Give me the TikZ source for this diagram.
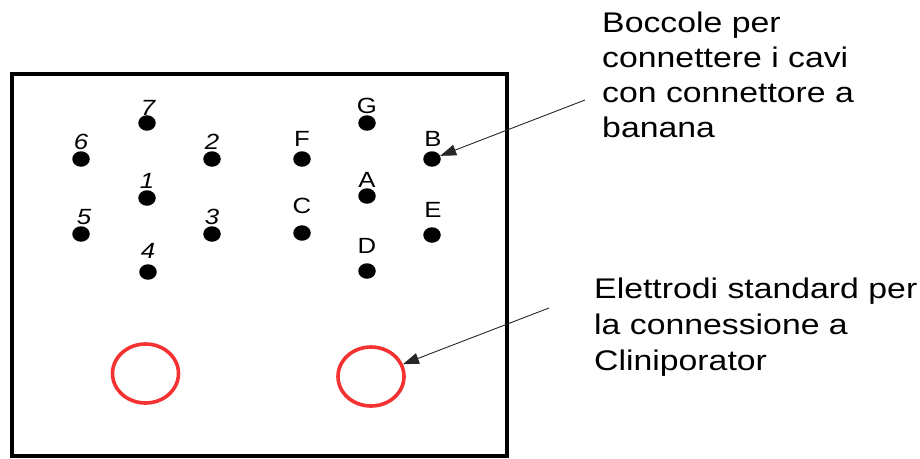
\documentclass[tikz,border=0pt]{standalone}
\usepackage{fontspec}
\newfontfamily\lsans[FakeStretch=1.17]{Liberation Sans}
\newfontfamily\nsans[FakeStretch=1.19]{Liberation Sans}
\usetikzlibrary{arrows.meta,shapes.geometric}
\definecolor{elred}{RGB}{245,50,50}
\begin{document}
\begin{tikzpicture}[x=1pt,y=-1pt,
  dotnode/.style={ellipse,fill=black,inner sep=0,minimum width=17.5pt,minimum height=15.5pt},
  lblnum/.style={anchor=base,inner sep=0,font=\lsans\itshape\fontsize{22}{24}\selectfont},
  lbllet/.style={anchor=base,inner sep=0,font=\lsans\fontsize{22}{24}\selectfont},
  electrode/.style={ellipse,draw=elred,line width=3.6pt,inner sep=0,minimum width=66pt,minimum height=59pt},
  note/.style={anchor=base west,inner sep=0,align=left,font=\nsans\fontsize{28.4}{35}\selectfont},
  arr/.style={draw=black!85,line width=0.9pt,-{Triangle[length=16pt,width=11pt]}}]
\useasboundingbox (0,0) rectangle (920,458);
\draw[line width=4pt] (12,456) -- (12,74) -- (507,74) -- (507,456) -- cycle;
% numbered sockets
\node[dotnode] (d7) at (147,123) {};
\node[dotnode] (d6) at (81,159) {};
\node[dotnode] (d2) at (212,159) {};
\node[dotnode] (d1) at (147,198) {};
\node[dotnode] (d5) at (81,234) {};
\node[dotnode] (d3) at (212,234) {};
\node[dotnode] (d4) at (148,272) {};
\node[lblnum] (l7) at (148,115) {7};
\node[lblnum] (l6) at (81,149) {6};
\node[lblnum] (l2) at (212,149) {2};
\node[lblnum] (l1) at (147,188) {1};
\node[lblnum] (l5) at (84,224) {5};
\node[lblnum] (l3) at (212,224) {3};
\node[lblnum] (l4) at (148,258) {4};
% lettered sockets
\node[dotnode] (dG) at (367,123) {};
\node[dotnode] (dF) at (302,159) {};
\node[dotnode] (dB) at (432,159) {};
\node[dotnode] (dA) at (367,196) {};
\node[dotnode] (dC) at (302,233) {};
\node[dotnode] (dE) at (432,235) {};
\node[dotnode] (dD) at (367,271) {};
\node[lbllet] (lG) at (367,113) {G};
\node[lbllet] (lF) at (302,146) {F};
\node[lbllet] (lB) at (433,146) {B};
\node[lbllet] (lA) at (367,187) {A};
\node[lbllet] (lC) at (302,213) {C};
\node[lbllet] (lE) at (433,217) {E};
\node[lbllet] (lD) at (367,253) {D};
% electrodes
\node[electrode] (eL) at (145.5,373.5) {};
\node[electrode] (eR) at (371,376.5) {};
% notes
\node[note] (n1) at (602,137) {Boccole per\\connettere i cavi\\con connettore a\\banana};
\node[note,font=\nsans\fontsize{28.4}{36}\selectfont] (n2) at (594,370) {Elettrodi standard per\\la connessione a\\Cliniporator};
\coordinate (t1) at (585,100);
\coordinate (t2) at (549,308);
\draw[arr] (t1) -- (dB);
\draw[arr] (t2) -- (eR);
\end{tikzpicture}
\end{document}
